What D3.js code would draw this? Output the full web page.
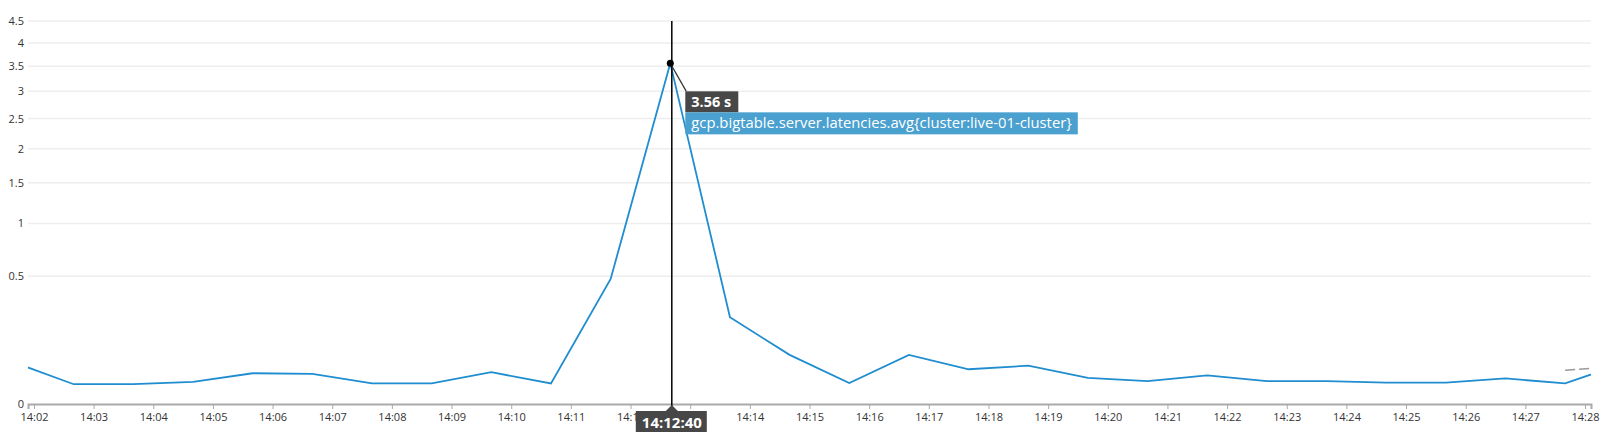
<!DOCTYPE html>
<html>
<head>
<meta charset="utf-8">
<script src="https://cdn.jsdelivr.net/npm/d3@7"></script>
<style>
  body { margin: 0; background: #fff; }
  svg { display: block; font-family: "Open Sans", "Noto Sans", sans-serif; }
</style>
</head>
<body>
<svg id="chart" width="1600" height="432"></svg>
<script>
// latency samples, one per minute at hh:mm:40 (seconds)
var times = ["14:01:40", "14:02:40", "14:03:40", "14:04:40", "14:05:40", "14:06:40", "14:07:40",
  "14:08:40", "14:09:40", "14:10:40", "14:11:40", "14:12:40", "14:13:40", "14:14:40",
  "14:15:40", "14:16:40", "14:17:40", "14:18:40", "14:19:40", "14:20:40", "14:21:40",
  "14:22:40", "14:23:40", "14:24:40", "14:25:40", "14:26:40", "14:27:40", "14:28:40"];
var latency = [0.053, 0.012, 0.012, 0.015, 0.029, 0.028, 0.013,
  0.013, 0.031, 0.013, 0.48, 3.56, 0.231, 0.074,
  0.0135, 0.074, 0.037, 0.045, 0.021, 0.016, 0.025,
  0.016, 0.016, 0.014, 0.014, 0.020, 0.013, 0.052];
// short grey dashed segment at the right end
var dashTimes = ["14:27:40", "14:28:05"];
var dashValues = [0.035, 0.039];

var yTicks = [0, 0.5, 1, 1.5, 2, 2.5, 3, 3.5, 4, 4.5];
var hoverTime = "14:12:40";
var hoverLabel = "3.56 s";
var seriesName = "gcp.bigtable.server.latencies.avg{cluster:live-01-cluster}";

var parse = d3.timeParse("%H:%M:%S");
var svg = d3.select("#chart");

var x = d3.scaleTime()
  .domain([parse("14:01:54"), parse("14:28:06")])
  .range([28, 1591]);
var y = d3.scaleSqrt()
  .domain([0, 4.5])
  .range([404, 21]);

var data = times.map(function (t, i) { return { t: parse(t), v: latency[i] }; });

svg.append("clipPath").attr("id", "plot")
  .append("rect").attr("x", 28).attr("y", 0).attr("width", 1563).attr("height", 404);

// grid
svg.append("g").selectAll("line")
  .data(yTicks.filter(function (d) { return d > 0; }))
  .enter().append("line")
  .attr("x1", 28).attr("x2", 1591)
  .attr("y1", function (d) { return y(d); })
  .attr("y2", function (d) { return y(d); })
  .style("stroke", "#eeeeee")
  .style("stroke-width", 1.5);

// y labels
svg.append("g").selectAll("text")
  .data(yTicks)
  .enter().append("text")
  .attr("x", 24)
  .attr("y", function (d) { return y(d) + 4; })
  .attr("text-anchor", "end")
  .style("font-size", "11px")
  .style("fill", "#333")
  .text(function (d) { return d; });

// x axis
var xAxis = d3.axisBottom(x)
  .ticks(d3.timeMinute.every(1))
  .tickFormat(d3.timeFormat("%H:%M"))
  .tickSizeOuter(0)
  .tickSize(5);
var gx = svg.append("g").attr("transform", "translate(0,404)").call(xAxis);
gx.select(".domain").style("stroke", "#aaa").style("stroke-width", 2);
gx.selectAll(".tick line").style("stroke", "#aaa");
gx.selectAll(".tick text").style("font-size", "11px").style("fill", "#333")
  .style("font-family", "'Open Sans', 'Noto Sans', sans-serif").attr("dy", "0.85em");

// series
var line = d3.line()
  .x(function (d) { return x(d.t); })
  .y(function (d) { return y(d.v); });
svg.append("path")
  .datum(data)
  .attr("clip-path", "url(#plot)")
  .attr("d", line)
  .style("fill", "none")
  .style("stroke", "#1f8dcf")
  .style("stroke-width", 1.8);

svg.append("path")
  .datum(dashTimes.map(function (t, i) { return { t: parse(t), v: dashValues[i] }; }))
  .attr("d", line)
  .style("fill", "none")
  .style("stroke", "#999")
  .style("stroke-width", 1.5)
  .style("stroke-dasharray", "10,4");

// hover crosshair
var hx = x(parse(hoverTime));
var hv = latency[times.indexOf(hoverTime)];
svg.append("line")
  .attr("x1", hx + 1.5).attr("x2", hx + 1.5)
  .attr("y1", 21).attr("y2", 406)
  .style("stroke", "#000").style("stroke-width", 1.5);
svg.append("line")
  .attr("x1", hx).attr("y1", y(hv))
  .attr("x2", hx + 16).attr("y2", y(hv) + 28)
  .style("stroke", "#333").style("stroke-width", 1.2);
svg.append("circle")
  .attr("cx", hx).attr("cy", y(hv)).attr("r", 3.5)
  .style("fill", "#000");

// value tooltip
var tip = svg.append("g").attr("transform", "translate(" + (hx + 15) + "," + (y(hv) + 28) + ")");
tip.append("rect").attr("width", 53).attr("height", 21).style("fill", "#474747");
tip.append("text").attr("x", 6).attr("y", 16)
  .style("font-size", "14.5px").style("font-weight", "bold").style("fill", "#fff")
  .text(hoverLabel);
var nameText = tip.append("text").attr("x", 6).attr("y", 37)
  .style("font-size", "14.8px").style("fill", "#fff")
  .text(seriesName);
var nw = nameText.node().getComputedTextLength();
tip.insert("rect", "text:last-child")
  .attr("y", 21).attr("width", nw + 12).attr("height", 22)
  .style("fill", "#4aa0cf");

// time label
var tl = svg.append("g").attr("transform", "translate(" + (hx + 1.5) + ",411)");
tl.append("path").attr("d", "M-6,0L0,-6L6,0Z").style("fill", "#474747");
tl.append("rect").attr("x", -36).attr("width", 71).attr("height", 24).style("fill", "#474747");
tl.append("text").attr("y", 17).attr("text-anchor", "middle")
  .style("font-size", "15px").style("font-weight", "bold").style("fill", "#fff")
  .text(hoverTime);
</script>
</body>
</html>
